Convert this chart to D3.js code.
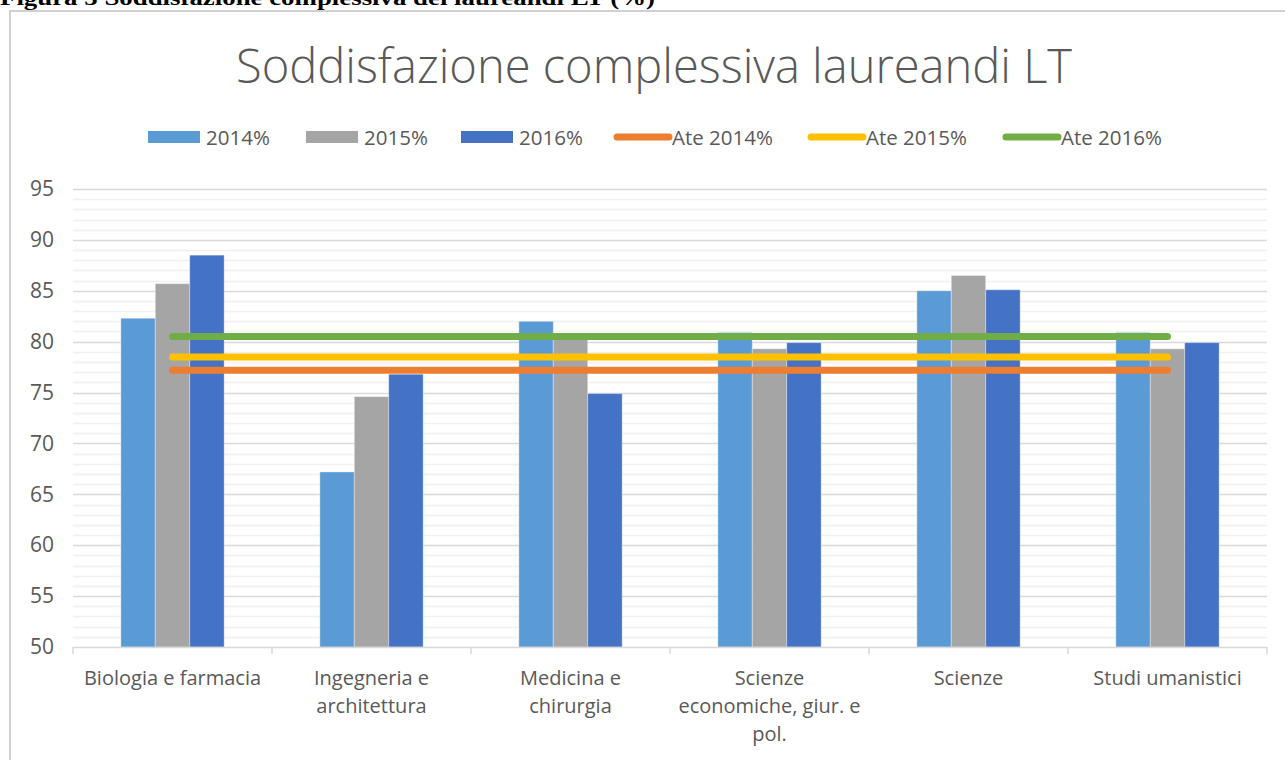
<!DOCTYPE html>
<html><head><meta charset="utf-8">
<script src="https://cdn.jsdelivr.net/npm/d3@7"></script>
<style>
html,body{margin:0;padding:0;background:#fff;}
svg{display:block;}
</style></head>
<body>
<svg id="chart" width="1285" height="760"></svg>
<script>
// ---- data ----
const categories = ["Biologia e farmacia","Ingegneria e architettura","Medicina e chirurgia","Scienze economiche, giur. e pol.","Scienze","Studi umanistici"];
const categoryLabelLines = [["Biologia e farmacia"],["Ingegneria e","architettura"],["Medicina e","chirurgia"],["Scienze","economiche, giur. e","pol."],["Scienze"],["Studi umanistici"]];
const barSeries = ["2014%","2015%","2016%"];
const values2014 = [82.3, 67.2, 82.0, 80.9, 85.0, 80.9];
const values2015 = [85.7, 74.6, 80.3, 79.3, 86.5, 79.3];
const values2016 = [88.5, 76.8, 74.9, 79.9, 85.1, 79.9];
const lineSeries = ["Ate 2014%","Ate 2015%","Ate 2016%"];
const ate2014 = [77.2, 77.2, 77.2, 77.2, 77.2, 77.2];
const ate2015 = [78.5, 78.5, 78.5, 78.5, 78.5, 78.5];
const ate2016 = [80.5, 80.5, 80.5, 80.5, 80.5, 80.5];
const yTicks = [50,55,60,65,70,75,80,85,90,95];
const titleText = "Soddisfazione complessiva laureandi LT";
const captionText = "Figura 5 Soddisfazione complessiva dei laureandi LT (%)";

const barColors = ["#5B9BD5","#A5A5A5","#4472C4"];
const lineColors = ["#ED7D31","#FFC000","#70AD47"];
const textColor = "#595959";
const font = "'Open Sans', 'Noto Sans', sans-serif";

const svg = d3.select("#chart");

// caption (cut off at top, as in the reference)
svg.append("text").attr("x",0).attr("y",5)
  .attr("font-family","'Liberation Serif', serif").attr("font-weight","bold")
  .attr("font-size",22).attr("fill","#000")
  .attr("textLength",655).attr("lengthAdjust","spacingAndGlyphs")
  .text(captionText);

// chart border
svg.append("rect").attr("x",10).attr("y",11).attr("width",1290).attr("height",760)
  .attr("fill","none").attr("stroke","#d0d0d0").attr("stroke-width",2);

// title
svg.append("text").attr("x",654).attr("y",83).attr("text-anchor","middle")
  .attr("font-family",font).attr("font-weight",300).attr("font-size",48)
  .attr("fill",textColor).attr("textLength",836).attr("lengthAdjust","spacingAndGlyphs")
  .text(titleText);

// scales
const pLeft = 73, pRight = 1267, pTop = 189, pBottom = 647;
const y = d3.scaleLinear().domain([50,95]).range([pBottom, pTop]);
const x0 = d3.scaleBand().domain(categories).range([pLeft,pRight]).padding(0);
const x1 = d3.scaleBand().domain(barSeries).range([0,x0.bandwidth()]).paddingInner(0).paddingOuter(1.39);

// gridlines
const minor = d3.range(50,96,1).filter(v=>v%5!==0);
svg.append("g").selectAll("line").data(minor).join("line")
  .attr("x1",pLeft).attr("x2",pRight).attr("y1",d=>Math.round(y(d))+0.5).attr("y2",d=>Math.round(y(d))+0.5)
  .attr("stroke","#f0f0f0").attr("stroke-width",1.5);
svg.append("g").selectAll("line").data(yTicks.filter(v=>v>50)).join("line")
  .attr("x1",pLeft).attr("x2",pRight).attr("y1",d=>Math.round(y(d))+0.5).attr("y2",d=>Math.round(y(d))+0.5)
  .attr("stroke","#d9d9d9").attr("stroke-width",1.5);

// y axis labels
const yAxis = d3.axisLeft(y).tickValues(yTicks).tickSize(0).tickPadding(19);
const gy = svg.append("g").attr("transform",`translate(${pLeft},0)`).call(yAxis);
gy.select(".domain").remove();
gy.selectAll("text").attr("font-family",font).attr("font-size",21).attr("fill",textColor);

// bars
const seriesValues = [values2014, values2015, values2016];
const barData = [];
categories.forEach((c,i)=>{
  barSeries.forEach((s,j)=>{ barData.push({c, s, v: seriesValues[j][i], j}); });
});
svg.append("g").selectAll("rect").data(barData).join("rect")
  .attr("x",d=>x0(d.c)+x1(d.s)).attr("width",x1.bandwidth())
  .attr("y",d=>y(d.v)).attr("height",d=>y(50)-y(d.v))
  .attr("fill",d=>barColors[d.j])
  .attr("stroke","#ffffff").attr("stroke-opacity",0.35).attr("stroke-width",1);

// x axis
svg.append("line").attr("x1",pLeft).attr("x2",pRight).attr("y1",pBottom+0.5).attr("y2",pBottom+0.5)
  .attr("stroke","#d9d9d9").attr("stroke-width",1.5);
const boundaries = categories.map(c=>x0(c)).concat([pRight]);
svg.append("g").selectAll("line").data(boundaries).join("line")
  .attr("x1",d=>d).attr("x2",d=>d).attr("y1",pBottom).attr("y2",pBottom+7)
  .attr("stroke","#d9d9d9").attr("stroke-width",1.5);

const labG = svg.append("g");
categories.forEach((c,i)=>{
  const t = labG.append("text").attr("text-anchor","middle")
    .attr("font-family",font).attr("font-size",20).attr("fill",textColor);
  categoryLabelLines[i].forEach((ln,k)=>{
    t.append("tspan").attr("x",x0(c)+x0.bandwidth()/2).attr("y",685+k*28).text(ln);
  });
});

// lines
const lineValues = [ate2014, ate2015, ate2016];
const line = d3.line().x((d,i)=>x0(categories[i])+x0.bandwidth()/2).y(d=>y(d));
lineValues.forEach((vals,k)=>{
  svg.append("path").datum(vals).attr("d",line)
    .attr("fill","none").attr("stroke",lineColors[k]).attr("stroke-width",7)
    .attr("stroke-linecap","round");
});

// legend
const legendItems = [
  {name:barSeries[0], type:"bar", color:barColors[0], x:148},
  {name:barSeries[1], type:"bar", color:barColors[1], x:306},
  {name:barSeries[2], type:"bar", color:barColors[2], x:461},
  {name:lineSeries[0], type:"line", color:lineColors[0], x:614},
  {name:lineSeries[1], type:"line", color:lineColors[1], x:808},
  {name:lineSeries[2], type:"line", color:lineColors[2], x:1003}
];
const lg = svg.append("g");
legendItems.forEach(it=>{
  if(it.type==="bar"){
    lg.append("rect").attr("x",it.x).attr("y",131).attr("width",52).attr("height",12).attr("fill",it.color);
  } else {
    lg.append("line").attr("x1",it.x+3).attr("x2",it.x+55).attr("y1",137).attr("y2",137)
      .attr("stroke",it.color).attr("stroke-width",7).attr("stroke-linecap","round");
  }
  lg.append("text").attr("x",it.x+58).attr("y",144.5).attr("font-family",font).attr("font-size",20.5)
    .attr("fill",textColor).text(it.name);
});
</script>
</body></html>
